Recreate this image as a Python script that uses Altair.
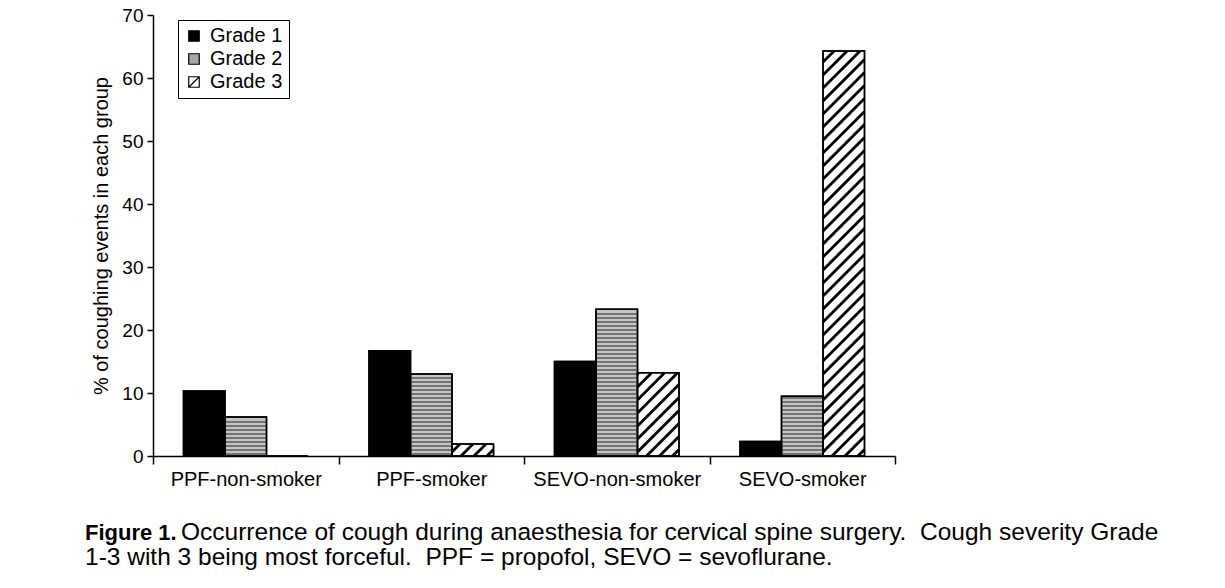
import altair as alt
import pandas as pd

categories = ["PPF-non-smoker", "PPF-smoker", "SEVO-non-smoker", "SEVO-smoker"]
grades = ["Grade 1", "Grade 2", "Grade 3"]
grade1 = [10.3, 16.7, 15.0, 2.3]
grade2 = [6.2, 13.0, 23.3, 9.5]
grade3 = [0.0, 1.9, 13.2, 64.3]
y_ticks = [0, 10, 20, 30, 40, 50, 60, 70]
y_title = "% of coughing events in each group"
caption_bold = ["Figure 1."]
caption_line1 = ["Occurrence of cough during anaesthesia for cervical spine surgery.\u00a0 Cough severity Grade"]
caption_line2 = ["1-3 with 3 being most forceful.\u00a0 PPF = propofol, SEVO = sevoflurane."]

FONT = "Liberation Sans"
W, H = 742, 441
XMAX, YMAX = 4, 70
PX_X = W / XMAX
PX_Y = H / YMAX
BW = 41.5 / PX_X

rows = []
for i, cat in enumerate(categories):
    for j, (g, vals) in enumerate(zip(grades, [grade1, grade2, grade3])):
        c = i + 0.5 + (j - 1) * BW
        rows.append({"cat": cat, "Grade": g, "value": vals[i],
                     "x0": c - BW / 2, "x1": c + BW / 2, "xc": c})
df = pd.DataFrame(rows)

# diagonal hatching for Grade 3 bars, horizontal stripes for Grade 2 (derived from values)
S = 13.0
hatch = []
stripes = []
for r in rows:
    wpx = BW * PX_X
    hpx = r["value"] * PX_Y
    if hpx <= 0:
        continue
    if r["Grade"] == "Grade 3":
        c = -wpx + S / 2
        while c < hpx:
            xs = max(0.0, -c)
            xe = min(wpx, hpx - c)
            if xe > xs:
                hatch.append({"hx": r["x0"] + xs / PX_X, "hx2": r["x0"] + xe / PX_X,
                              "hy": (xs + c) / PX_Y, "hy2": (xe + c) / PX_Y})
            c += S
    elif r["Grade"] == "Grade 2":
        yy = 2.0
        while yy < hpx - 1.5:
            stripes.append({"sx": r["x0"], "sx2": r["x1"], "sy": yy / PX_Y})
            yy += 4.0
hdf = pd.DataFrame(hatch)
sdf = pd.DataFrame(stripes)

xscale = alt.Scale(domain=[0, XMAX], nice=False, zero=False)
yscale = alt.Scale(domain=[0, YMAX], nice=False)

label_arr = "[" + ",".join("'" + c + "'" for c in categories) + "]"
xaxis = alt.Axis(
    values=[0, 0.5, 1, 1.5, 2, 2.5, 3, 3.5, 4],
    labelExpr=f"datum.value % 1 != 0 ? {label_arr}[floor(datum.value)] : ''",
    tickOpacity={"condition": {"test": "datum.value % 1 != 0", "value": 0}, "value": 1},
    title=None, grid=False, tickSize=8, tickWidth=1.5, labelPadding=5,
    labelFontSize=20, labelFont=FONT, labelColor="black",
    domainColor="black", domainWidth=1.5, tickColor="black",
    labelOverlap=False, labelFlush=False, labelBound=False,
)
yaxis = alt.Axis(
    values=y_ticks, title=y_title, titleFontSize=20, titleFontWeight="normal",
    titleFont=FONT, titleColor="black", titlePadding=10,
    labelFontSize=19, labelFont=FONT, labelColor="black", labelPadding=4,
    tickSize=6, tickWidth=1.5, grid=False, domainColor="black", domainWidth=1.5,
    tickColor="black",
)

fill_scale = alt.Scale(domain=grades, range=["black", "#a8a8a8", "white"])
stroke_scale = alt.Scale(domain=grades, range=["black", "black", "black"])
shape_scale = alt.Scale(domain=grades,
                        range=["square", "square", "M-1,-1H1V1H-1Z M-1,1L1,-1"])
legend = alt.Legend(
    title=None, orient="none", legendX=25, legendY=5, strokeColor="black",
    padding=6, labelFontSize=20, labelFont=FONT, labelColor="black",
    symbolSize=110, symbolStrokeColor="black", symbolStrokeWidth=1.2,
    symbolOpacity=1, rowPadding=3, labelOffset=6, labelLimit=300,
)

bar_fill = (alt.when(alt.datum.Grade == grades[0]).then(alt.value("black"))
            .when(alt.datum.Grade == grades[1]).then(alt.value("#c4c4c4"))
            .otherwise(alt.value("white")))

bars = alt.Chart(df).mark_bar(stroke="black", strokeWidth=1.5).encode(
    x=alt.X("x0:Q", scale=xscale, axis=xaxis),
    x2="x1",
    y=alt.Y("value:Q", scale=yscale, axis=yaxis),
    y2=alt.datum(0),
    fill=bar_fill,
)

stripe_layer = alt.Chart(sdf).mark_rule(color="#5a5a5a", strokeWidth=1.3).encode(
    x=alt.X("sx:Q", scale=xscale, axis=xaxis),
    x2="sx2",
    y=alt.Y("sy:Q", scale=yscale, axis=yaxis),
)

hatch_layer = alt.Chart(hdf).mark_rule(color="black", strokeWidth=2.8, strokeCap="butt").encode(
    x=alt.X("hx:Q", scale=xscale, axis=xaxis),
    x2="hx2",
    y=alt.Y("hy:Q", scale=yscale, axis=yaxis),
    y2="hy2",
)

outline = alt.Chart(df).mark_bar(fillOpacity=0, stroke="black", strokeWidth=1.5).encode(
    x=alt.X("x0:Q", scale=xscale, axis=xaxis),
    x2="x1",
    y=alt.Y("value:Q", scale=yscale, axis=yaxis),
    y2=alt.datum(0),
)

legend_pts = alt.Chart(df).mark_point(opacity=0, filled=False, strokeWidth=1.2).encode(
    x=alt.X("xc:Q", scale=xscale, axis=xaxis),
    y=alt.Y("value:Q", scale=yscale, axis=yaxis),
    fill=alt.Fill("Grade:N", scale=fill_scale, legend=legend),
    stroke=alt.Stroke("Grade:N", scale=stroke_scale, legend=legend),
    shape=alt.Shape("Grade:N", scale=shape_scale, legend=legend),
)

cap_b = alt.Chart(pd.DataFrame({"t": caption_bold})).mark_text(
    align="left", baseline="alphabetic", fontSize=22, fontWeight="bold",
    font=FONT, color="black").encode(text="t:N", x=alt.value(-68), y=alt.value(525))
cap_1 = alt.Chart(pd.DataFrame({"t": caption_line1})).mark_text(
    align="left", baseline="alphabetic", fontSize=24.5,
    font=FONT, color="black").encode(text="t:N", x=alt.value(28), y=alt.value(525))
cap_2 = alt.Chart(pd.DataFrame({"t": caption_line2})).mark_text(
    align="left", baseline="alphabetic", fontSize=24.5,
    font=FONT, color="black").encode(text="t:N", x=alt.value(-68), y=alt.value(550))

chart = alt.layer(bars, stripe_layer, hatch_layer, outline, legend_pts, cap_b, cap_1, cap_2).properties(
    width=W, height=H,
    autosize=alt.AutoSizeParams(type="none"),
    padding={"left": 153, "top": 15, "right": 1225 - 153 - W, "bottom": 588 - 15 - H},
    background="white",
).configure_view(strokeWidth=0)

chart.save("out.html", embed_options={"renderer": "svg", "actions": False})
